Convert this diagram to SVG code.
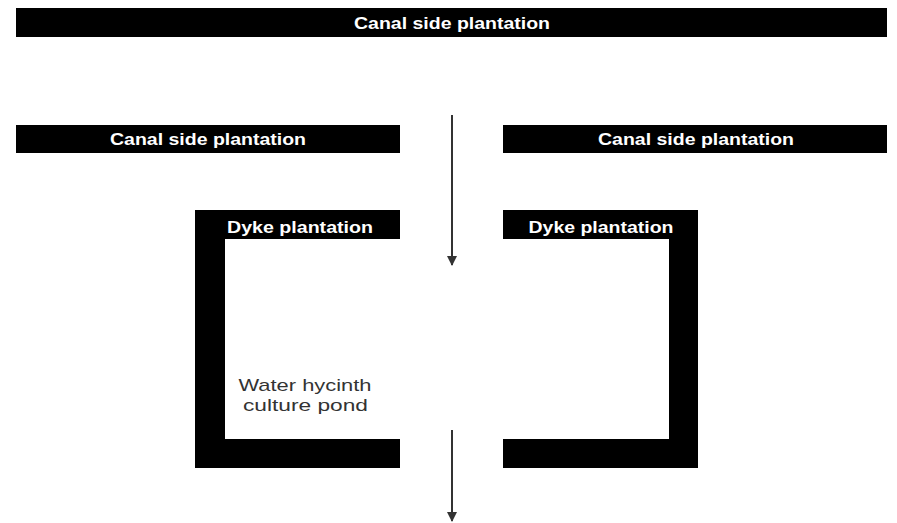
<svg xmlns="http://www.w3.org/2000/svg" width="897" height="523" viewBox="0 0 897 523">
<defs>
<style>
.bar{fill:#000}
.lbl{fill:#fff;font-family:"Liberation Sans",Arial,sans-serif;font-weight:bold;font-size:17px;text-anchor:middle}
.pond{fill:#333;font-family:"Liberation Sans",Arial,sans-serif;font-size:17px;text-anchor:middle}
.flow{stroke:#333;stroke-width:2;fill:none}
</style>
<marker id="ah" viewBox="0 0 10 14" refX="9" refY="7" markerWidth="10" markerHeight="14" markerUnits="userSpaceOnUse" orient="auto">
<path d="M0,2 L10,7 L0,12 Z" fill="#333"/>
</marker>
</defs>
<rect width="897" height="523" fill="#fff"/>
<g id="canal-top">
<rect class="bar" x="16" y="8" width="871" height="29"/>
<text class="lbl" x="452" y="29" textLength="196" lengthAdjust="spacingAndGlyphs">Canal side plantation</text>
</g>
<g id="canal-left">
<rect class="bar" x="16" y="125" width="384" height="28"/>
<text class="lbl" x="208" y="144.5" textLength="196" lengthAdjust="spacingAndGlyphs">Canal side plantation</text>
</g>
<g id="canal-right">
<rect class="bar" x="503" y="125" width="384" height="28"/>
<text class="lbl" x="696" y="144.5" textLength="196" lengthAdjust="spacingAndGlyphs">Canal side plantation</text>
</g>
<g id="dyke-left">
<path class="bar" d="M195,210 H400 V239 H225 V439 H400 V468 H195 Z"/>
<text class="lbl" x="300" y="232.5" textLength="146" lengthAdjust="spacingAndGlyphs">Dyke plantation</text>
</g>
<g id="dyke-right">
<path class="bar" d="M503,210 H698 V468 H503 V439 H669 V239 H503 Z"/>
<text class="lbl" x="601" y="232.5" textLength="145" lengthAdjust="spacingAndGlyphs">Dyke plantation</text>
</g>
<g id="pond">
<text class="pond" x="305" y="391" textLength="133" lengthAdjust="spacingAndGlyphs">Water hycinth</text>
<text class="pond" x="305.5" y="411" textLength="125" lengthAdjust="spacingAndGlyphs">culture pond</text>
</g>
<g id="connectors">
<line class="flow" x1="452" y1="115" x2="452" y2="265" marker-end="url(#ah)"/>
<line class="flow" x1="452" y1="430" x2="452" y2="521" marker-end="url(#ah)"/>
</g>
</svg>
